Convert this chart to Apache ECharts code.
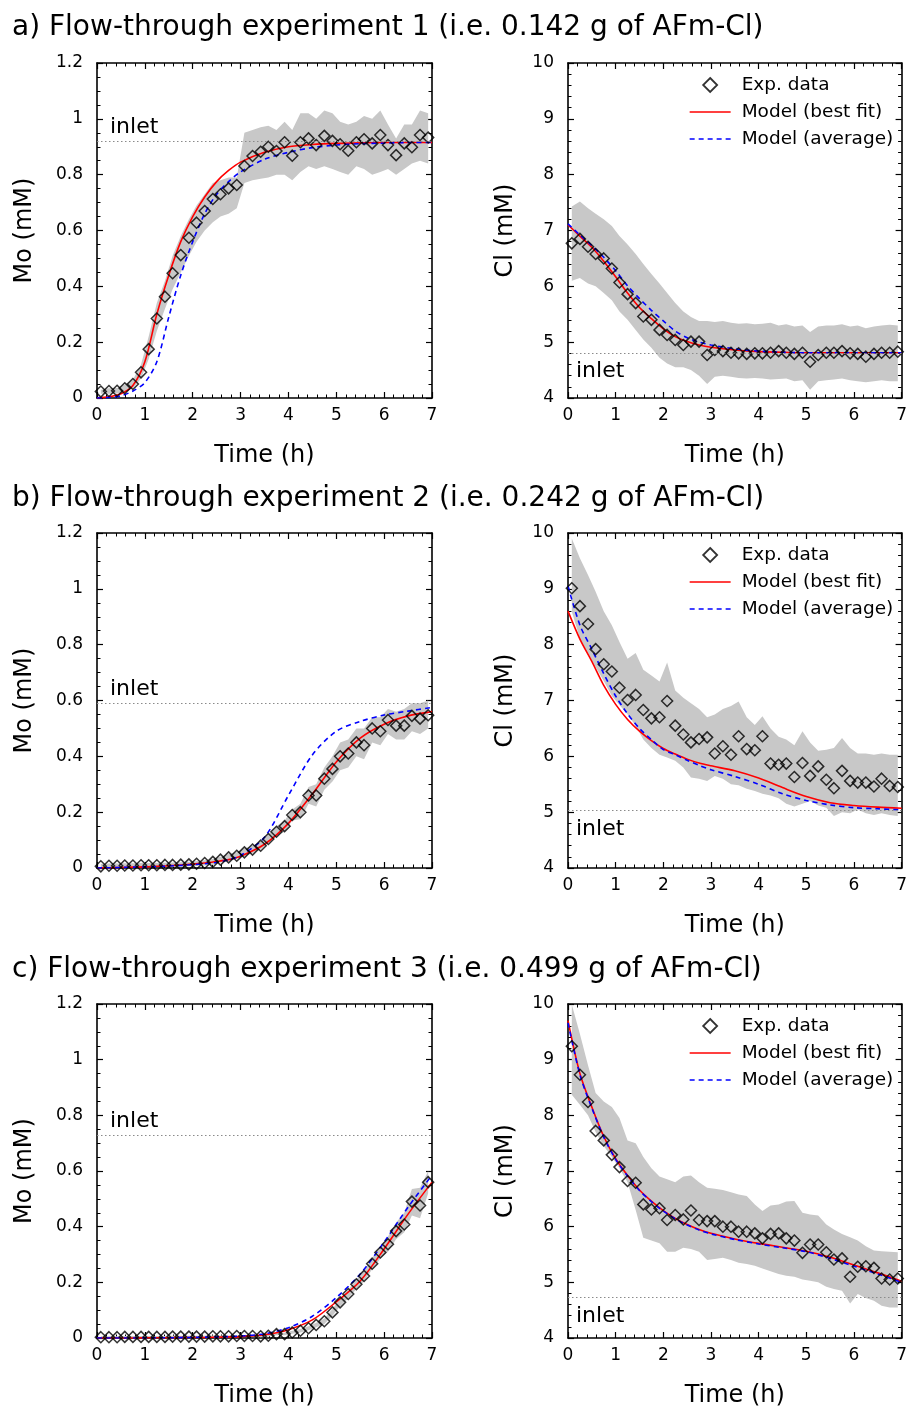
<!DOCTYPE html>
<html><head><meta charset="utf-8">
<script src="https://cdn.jsdelivr.net/npm/echarts@6/dist/echarts.min.js"></script>
<style>html,body{margin:0;padding:0;background:#fff}#c{width:910px;height:1409px}</style>
</head><body><div id="c"></div><script>
// ---- data ----
const panelTitles = [
  "a) Flow-through experiment 1 (i.e. 0.142 g of AFm-Cl)",
  "b) Flow-through experiment 2 (i.e. 0.242 g of AFm-Cl)",
  "c) Flow-through experiment 3 (i.e. 0.499 g of AFm-Cl)"
];
const legendNames = ["Exp. data", "Model (best fit)", "Model (average)"];
const timeExp = [0.08,0.25,0.42,0.58,0.75,0.92,1.08,1.25,1.42,1.58,1.75,1.92,2.08,2.25,2.42,2.58,2.75,2.92,3.08,3.25,3.42,3.58,3.75,3.92,4.08,4.25,4.42,4.58,4.75,4.92,5.08,5.25,5.42,5.58,5.75,5.92,6.08,6.25,6.42,6.58,6.75,6.92];
const timeModel = [0,0.25,0.5,0.75,1,1.25,1.5,1.75,2,2.25,2.5,2.75,3,3.5,4,4.5,5,5.5,6,6.5,7];
const inletMo = [0.915, 0.595, 0.735];
const inletCl = [4.81, 5.03, 4.73];

// experiment 1
const moA = [0.023,0.025,0.026,0.035,0.05,0.092,0.175,0.285,0.363,0.447,0.512,0.574,0.628,0.670,0.713,0.730,0.751,0.763,0.831,0.867,0.882,0.900,0.885,0.916,0.868,0.916,0.930,0.906,0.939,0.921,0.909,0.886,0.916,0.927,0.912,0.942,0.906,0.870,0.912,0.898,0.942,0.933];
const moAhi = [0.03,0.035,0.036,0.048,0.065,0.12,0.22,0.34,0.42,0.51,0.58,0.64,0.69,0.73,0.77,0.78,0.79,0.79,0.95,0.96,0.97,0.975,0.96,0.99,0.96,1.02,1.02,1.00,1.03,1.02,0.99,0.98,0.99,1.01,1.00,1.03,0.98,0.93,0.98,0.98,1.03,1.02];
const moAlo = [0.015,0.015,0.016,0.022,0.035,0.07,0.14,0.24,0.32,0.39,0.45,0.51,0.56,0.60,0.63,0.65,0.66,0.68,0.77,0.78,0.785,0.79,0.80,0.80,0.78,0.81,0.83,0.82,0.83,0.82,0.81,0.80,0.83,0.82,0.80,0.81,0.82,0.80,0.82,0.84,0.85,0.84];
const moAfit = [0,0.004,0.015,0.045,0.13,0.30,0.44,0.56,0.65,0.72,0.775,0.815,0.845,0.88,0.90,0.908,0.912,0.914,0.915,0.915,0.915];
const moAavg = [0,0.002,0.008,0.025,0.055,0.13,0.29,0.44,0.56,0.66,0.73,0.775,0.81,0.855,0.88,0.897,0.906,0.911,0.913,0.915,0.915];
const clA = [6.77,6.85,6.71,6.58,6.50,6.32,6.07,5.86,5.70,5.46,5.40,5.22,5.13,5.04,4.95,5.01,5.01,4.77,4.86,4.84,4.81,4.80,4.79,4.80,4.80,4.81,4.84,4.81,4.79,4.81,4.65,4.77,4.81,4.81,4.84,4.80,4.79,4.74,4.79,4.81,4.81,4.83];
const clAhi = [7.43,7.52,7.40,7.30,7.20,7.08,6.90,6.75,6.58,6.40,6.22,6.05,5.88,5.70,5.55,5.45,5.38,5.38,5.36,5.38,5.35,5.33,5.34,5.32,5.33,5.35,5.30,5.32,5.28,5.30,5.18,5.28,5.30,5.30,5.32,5.28,5.30,5.25,5.28,5.30,5.31,5.30];
const clAlo = [6.10,6.15,6.05,6.00,5.88,5.75,5.55,5.40,5.22,5.05,4.90,4.72,4.62,4.55,4.55,4.50,4.40,4.25,4.38,4.40,4.38,4.36,4.35,4.36,4.35,4.33,4.34,4.35,4.30,4.32,4.15,4.30,4.32,4.33,4.35,4.32,4.30,4.28,4.30,4.32,4.30,4.30];
const clAfit = [7.10,6.90,6.70,6.45,6.17,5.88,5.62,5.42,5.24,5.10,5.01,4.95,4.91,4.86,4.83,4.82,4.81,4.81,4.81,4.81,4.81];
const clAavg = [7.12,6.92,6.73,6.52,6.28,6.01,5.78,5.57,5.38,5.20,5.08,5.00,4.95,4.88,4.84,4.82,4.81,4.81,4.81,4.81,4.81];

// experiment 2
const moB = [0.006,0.008,0.008,0.009,0.009,0.010,0.010,0.010,0.011,0.011,0.012,0.013,0.015,0.018,0.022,0.030,0.038,0.044,0.056,0.066,0.080,0.104,0.130,0.150,0.190,0.200,0.260,0.260,0.320,0.355,0.400,0.410,0.450,0.440,0.500,0.490,0.530,0.510,0.510,0.545,0.535,0.547];
const moBhi = [0.014,0.016,0.016,0.017,0.017,0.018,0.018,0.018,0.019,0.020,0.021,0.022,0.024,0.028,0.032,0.040,0.050,0.056,0.070,0.080,0.095,0.120,0.150,0.170,0.210,0.230,0.290,0.300,0.360,0.400,0.450,0.460,0.500,0.500,0.540,0.540,0.570,0.560,0.570,0.590,0.590,0.600];
const moBlo = [0.002,0.003,0.003,0.003,0.003,0.004,0.004,0.004,0.004,0.004,0.005,0.006,0.007,0.009,0.012,0.020,0.027,0.033,0.043,0.053,0.066,0.090,0.115,0.130,0.170,0.175,0.230,0.220,0.280,0.310,0.350,0.360,0.400,0.390,0.450,0.440,0.480,0.460,0.460,0.490,0.480,0.500];
const moBfit = [0,0.001,0.002,0.003,0.004,0.006,0.008,0.011,0.014,0.018,0.023,0.03,0.042,0.085,0.16,0.265,0.38,0.465,0.515,0.545,0.56];
const moBavg = [0,0.001,0.002,0.003,0.004,0.005,0.007,0.009,0.012,0.015,0.02,0.03,0.045,0.11,0.26,0.405,0.49,0.525,0.548,0.562,0.575];
const clB = [9.01,8.69,8.37,7.92,7.65,7.52,7.23,7.01,7.10,6.83,6.68,6.70,6.99,6.55,6.39,6.25,6.31,6.34,6.05,6.18,6.03,6.36,6.13,6.11,6.36,5.87,5.85,5.87,5.63,5.88,5.65,5.82,5.58,5.43,5.74,5.56,5.53,5.53,5.46,5.60,5.47,5.45];
const clBhi = [9.90,9.55,9.25,8.95,8.60,8.35,8.05,7.75,7.85,7.55,7.45,7.34,7.68,7.18,7.05,6.95,6.85,6.70,6.75,6.85,6.90,6.98,6.70,6.56,6.72,6.50,6.35,6.30,6.20,6.45,6.25,6.10,6.12,6.15,6.33,6.15,6.05,6.05,6.03,6.05,6.03,6.03];
const clBlo = [8.59,8.11,7.85,7.60,7.35,7.08,6.92,6.75,6.55,6.30,6.15,6.03,5.98,5.92,5.80,5.62,5.60,5.56,5.65,5.60,5.50,5.48,5.42,5.38,5.33,5.30,5.25,5.15,5.10,5.15,5.20,5.12,5.08,4.93,5.00,4.98,5.05,4.98,4.95,4.98,4.95,4.93];
const clBfit = [8.60,8.10,7.70,7.27,6.93,6.66,6.45,6.28,6.14,6.04,5.95,5.88,5.83,5.74,5.61,5.44,5.28,5.17,5.12,5.09,5.07];
const clBavg = [9.05,8.35,7.92,7.48,7.08,6.76,6.50,6.30,6.12,6.03,5.93,5.84,5.76,5.64,5.50,5.33,5.21,5.13,5.08,5.06,5.04];

// experiment 3
const moC = [0.003,0.003,0.003,0.004,0.004,0.004,0.004,0.004,0.004,0.005,0.005,0.005,0.005,0.005,0.006,0.006,0.006,0.007,0.007,0.007,0.006,0.008,0.014,0.014,0.020,0.026,0.035,0.047,0.060,0.092,0.128,0.158,0.193,0.223,0.267,0.307,0.337,0.384,0.408,0.490,0.476,0.560];
const moChi = [0.006,0.006,0.006,0.007,0.007,0.007,0.007,0.007,0.007,0.008,0.008,0.008,0.008,0.008,0.009,0.009,0.009,0.010,0.010,0.010,0.010,0.012,0.018,0.019,0.026,0.032,0.042,0.055,0.070,0.104,0.142,0.173,0.210,0.242,0.287,0.330,0.365,0.415,0.450,0.535,0.540,0.600];
const moClo = [0.001,0.001,0.001,0.001,0.001,0.001,0.001,0.001,0.001,0.002,0.002,0.002,0.002,0.002,0.003,0.003,0.003,0.004,0.004,0.004,0.003,0.005,0.010,0.010,0.015,0.020,0.028,0.039,0.050,0.080,0.114,0.143,0.176,0.204,0.247,0.285,0.310,0.355,0.380,0.440,0.430,0.520];
const moCfit = [0,0,0,0,0.0005,0.001,0.001,0.0015,0.002,0.002,0.003,0.004,0.005,0.012,0.03,0.065,0.13,0.205,0.32,0.445,0.56];
const moCavg = [0,0,0,0,0.0005,0.001,0.001,0.0015,0.002,0.003,0.004,0.005,0.007,0.015,0.037,0.078,0.145,0.23,0.345,0.47,0.585];
const clC = [9.24,8.73,8.24,7.72,7.55,7.29,7.07,6.82,6.79,6.40,6.31,6.33,6.12,6.21,6.13,6.29,6.12,6.10,6.10,6.00,6.00,5.91,5.91,5.88,5.79,5.87,5.88,5.79,5.75,5.53,5.68,5.68,5.54,5.41,5.43,5.10,5.28,5.29,5.26,5.07,5.05,5.07];
const clChi = [9.99,9.46,8.90,8.40,8.25,8.15,7.95,7.55,7.50,7.25,7.05,6.90,6.85,6.80,6.90,6.92,6.80,6.70,6.68,6.66,6.62,6.58,6.55,6.40,6.28,6.38,6.40,6.45,6.46,6.25,6.22,6.20,6.04,5.95,5.87,5.81,5.75,5.65,5.57,5.56,5.55,5.54];
const clClo = [8.37,8.19,8.00,7.70,7.45,7.25,7.05,6.80,6.30,5.80,5.75,5.70,5.55,5.55,5.62,5.60,5.55,5.40,5.42,5.44,5.40,5.35,5.33,5.30,5.25,5.20,5.15,5.12,5.10,5.05,5.03,5.00,4.92,4.88,4.85,4.62,4.79,4.72,4.67,4.58,4.55,4.55];
const clCfit = [9.70,8.75,8.15,7.62,7.22,6.92,6.66,6.46,6.29,6.15,6.04,5.95,5.88,5.78,5.70,5.63,5.56,5.45,5.31,5.17,5.02];
const clCavg = [9.66,8.73,8.13,7.61,7.21,6.91,6.65,6.45,6.28,6.14,6.03,5.94,5.87,5.77,5.69,5.62,5.55,5.43,5.29,5.15,5.00];

// ---- layout ----
const FONT = 'DejaVu Sans';
const rowTop = [63, 533, 1004];
const colLeft = [97, 568];
const PW = 335, PH = 335;
const titleTop = [14, 485, 956];

const panels = [
  {r:0,c:0,pts:moA,lo:moAlo,hi:moAhi,fit:moAfit,avg:moAavg,inlet:inletMo[0]},
  {r:0,c:1,pts:clA,lo:clAlo,hi:clAhi,fit:clAfit,avg:clAavg,inlet:inletCl[0]},
  {r:1,c:0,pts:moB,lo:moBlo,hi:moBhi,fit:moBfit,avg:moBavg,inlet:inletMo[1]},
  {r:1,c:1,pts:clB,lo:clBlo,hi:clBhi,fit:clBfit,avg:clBavg,inlet:inletCl[1]},
  {r:2,c:0,pts:moC,lo:moClo,hi:moChi,fit:moCfit,avg:moCavg,inlet:inletMo[2]},
  {r:2,c:1,pts:clC,lo:clClo,hi:clChi,fit:clCfit,avg:clCavg,inlet:inletCl[2]}
];

const pairs = (xs, ys) => xs.map((x, i) => [x, ys[i]]);
const grids = [], xAxes = [], yAxes = [], series = [], legends = [], titles = [];

panelTitles.forEach((t, r) => titles.push({
  text: t, left: 12, top: titleTop[r], padding: 0,
  textStyle: {fontSize: 28, fontWeight: 'normal', color: '#000', fontFamily: FONT}
}));

const axLine = {show: true, onZero: false, lineStyle: {color: '#000', width: 1.6}};
const tick = {show: true, inside: true, length: 6, lineStyle: {color: '#000', width: 1.2}};
const minor = n => ({show: true, splitNumber: n, length: 3.5, lineStyle: {color: '#000', width: 1}});
const lbl = {show: true, color: '#000', fontSize: 17, fontFamily: FONT};
const nameStyle = {color: '#000', fontSize: 24, fontFamily: FONT};

panels.forEach((p, k) => {
  const isMo = p.c === 0;
  grids.push({left: colLeft[p.c], top: rowTop[p.r], width: PW, height: PH});
  xAxes.push({gridIndex: k, type: 'value', position: 'bottom', min: 0, max: 7, interval: 1,
    axisLine: axLine, axisTick: tick, minorTick: minor(5), splitLine: {show: false},
    axisLabel: Object.assign({}, lbl, {margin: 9}),
    name: 'Time (h)', nameLocation: 'middle', nameGap: 46, nameTextStyle: nameStyle});
  xAxes.push({gridIndex: k, type: 'value', position: 'top', min: 0, max: 7, interval: 1,
    axisLine: axLine, axisTick: tick, minorTick: minor(5), splitLine: {show: false},
    axisLabel: {show: false}});
  const ymin = isMo ? 0 : 4, ymax = isMo ? 1.2 : 10, yint = isMo ? 0.2 : 1;
  yAxes.push({gridIndex: k, type: 'value', position: 'left', min: ymin, max: ymax, interval: yint,
    axisLine: axLine, axisTick: tick, minorTick: minor(isMo ? 4 : 5), splitLine: {show: false},
    axisLabel: Object.assign({}, lbl, {margin: 14}),
    name: isMo ? 'Mo (mM)' : 'Cl (mM)', nameLocation: 'middle', nameGap: isMo ? 60 : 50,
    nameTextStyle: nameStyle});
  yAxes.push({gridIndex: k, type: 'value', position: 'right', min: ymin, max: ymax, interval: yint,
    axisLine: axLine, axisTick: tick, minorTick: minor(isMo ? 4 : 5), splitLine: {show: false},
    axisLabel: {show: false}});
  const xi = 2 * k, yi = 2 * k;

  // inlet concentration (dotted line, below the band)
  series.push({type: 'line', name: 'inlet' + k, xAxisIndex: xi, yAxisIndex: yi,
    data: [[0, p.inlet]], symbol: 'none', showSymbol: false, lineStyle: {opacity: 0}, z: 0, silent: true,
    markLine: {silent: true, symbol: ['none', 'none'], animation: false,
      lineStyle: {color: '#8a8a8a', type: [1.5, 2.5], width: 1},
      label: {show: true, formatter: 'inlet', position: isMo ? 'insideStartTop' : 'insideStartBottom',
        distance: isMo ? [13, 3] : [8, 8], color: '#000', fontSize: 22, fontFamily: FONT},
      data: [{yAxis: p.inlet}]}});
  // uncertainty band polygon through the axis scales
  series.push({type: 'custom', name: 'band' + k, xAxisIndex: xi, yAxisIndex: yi, z: 1, silent: true,
    clip: true,
    data: timeExp.map((t, i) => [t, p.lo[i], p.hi[i]]),
    encode: {x: 0, y: [1, 2]},
    renderItem: (params, api) => {
      if (params.dataIndex !== 0) return null;
      const upper = timeExp.map((t, i) => api.coord([t, p.hi[i]]));
      const lower = timeExp.map((t, i) => api.coord([t, p.lo[i]])).reverse();
      return {type: 'polygon', shape: {points: upper.concat(lower)}, style: {fill: '#c8c8c8', stroke: null}};
    }});
  // models
  series.push({type: 'line', name: legendNames[1], xAxisIndex: xi, yAxisIndex: yi,
    data: pairs(timeModel, p.fit), smooth: 0.3, symbol: 'none', showSymbol: false,
    lineStyle: {color: '#ff0000', width: 1.6}, itemStyle: {color: '#ff0000'}, z: 3});
  series.push({type: 'line', name: legendNames[2], xAxisIndex: xi, yAxisIndex: yi,
    data: pairs(timeModel, p.avg), smooth: 0.3, symbol: 'none', showSymbol: false,
    lineStyle: {color: '#0000ff', width: 1.6, type: [5, 4]}, itemStyle: {color: '#0000ff'}, z: 3});
  // experimental data
  series.push({type: 'scatter', name: legendNames[0], xAxisIndex: xi, yAxisIndex: yi,
    data: pairs(timeExp, p.pts), symbol: 'diamond', symbolSize: 11,
    itemStyle: {color: 'rgba(0,0,0,0)', borderColor: '#000', borderWidth: 1.5}, z: 4});

  if (!isMo) {
    legends.push({orient: 'vertical', left: 684, top: rowTop[p.r] + 7.5, padding: 5,
      itemWidth: 41, itemHeight: 14, itemGap: 8, selectedMode: false, symbolKeepAspect: true,
      textStyle: {fontSize: 18.5, color: '#000', fontFamily: FONT, padding: [0, 0, 0, 6]},
      data: [
        {name: legendNames[0], icon: 'path://M5,0L10,5L5,10L0,5Z',
          itemStyle: {color: 'rgba(0,0,0,0)', borderColor: '#000', borderWidth: 1.8}},
        {name: legendNames[1], itemStyle: {color: 'rgba(0,0,0,0)', borderColor: 'rgba(0,0,0,0)', borderWidth: 0},
          lineStyle: {width: 1.3}},
        {name: legendNames[2], itemStyle: {color: 'rgba(0,0,0,0)', borderColor: 'rgba(0,0,0,0)', borderWidth: 0},
          lineStyle: {width: 1.3}}
      ]});
  }
});

const chart = echarts.init(document.getElementById('c'), null, {width: 910, height: 1409});
chart.setOption({
  animation: false, backgroundColor: '#fff',
  title: titles, grid: grids, xAxis: xAxes, yAxis: yAxes, legend: legends, series: series
});
</script></body></html>
